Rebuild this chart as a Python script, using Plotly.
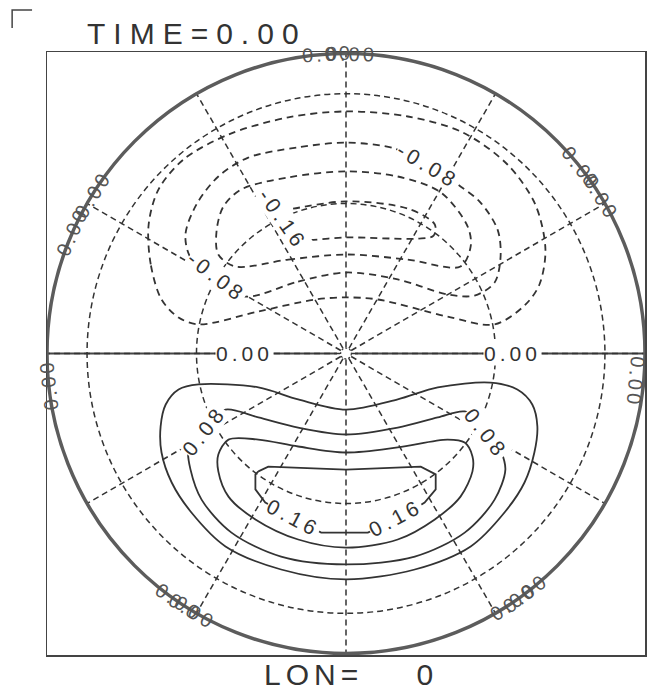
import math
import plotly.graph_objects as go

# ---------------- data (orthographic map units, map radius = 1) ----------------
TITLE = "TIME=0.00"
XLABEL = "LON=\u00a0\u00a0\u00a0\u00a00"

GRID_LATS = [60, 30]                     # latitude circles (orthographic r = cos(lat))
GRID_LONS = list(range(0, 360, 30))      # meridians

# contour level -0.04
C_M004_X = [-0.617, -0.653, -0.66, -0.627, -0.543, -0.393, -0.193, 0.0, 0.207, 0.39, 0.54, 0.633,
            0.667, 0.647, 0.60, 0.497, 0.34, 0.107, 0.0, -0.103, -0.293, -0.493, -0.56, -0.617]
C_M004_Y = [0.18, 0.297, 0.43, 0.547, 0.647, 0.73, 0.787, 0.807, 0.79, 0.737, 0.63, 0.497,
            0.347, 0.23, 0.163, 0.097, 0.123, 0.18, 0.187, 0.18, 0.14, 0.097, 0.12, 0.18]
# contour level -0.08
C_M008_X = [-0.337, -0.16, 0.0, 0.173, 0.34, 0.43, 0.497, 0.517, 0.507, 0.45, 0.383, 0.273,
            0.163, 0.0, -0.16, -0.327, -0.427, -0.5, -0.537, -0.52, -0.433, -0.337]
C_M008_Y = [0.19, 0.24, 0.27, 0.247, 0.197, 0.193, 0.237, 0.323, 0.413, 0.503, 0.557, 0.627,
            0.683, 0.703, 0.687, 0.653, 0.59, 0.497, 0.397, 0.32, 0.247, 0.19]
# contour level -0.12
C_M012_X = [-0.37, -0.193, 0.0, 0.207, 0.383, 0.417, 0.407, 0.317, 0.173, 0.0, -0.193, -0.35,
            -0.41, -0.433, -0.427, -0.37]
C_M012_Y = [0.29, 0.313, 0.33, 0.313, 0.29, 0.357, 0.423, 0.537, 0.59, 0.607, 0.587, 0.547,
            0.49, 0.407, 0.33, 0.29]
# contour level -0.16
C_M016_X = [-0.243, -0.177, 0.0, 0.207, 0.297, 0.293, 0.24, 0.0, -0.16, -0.217, -0.253, -0.243]
C_M016_Y = [0.473, 0.483, 0.507, 0.483, 0.43, 0.393, 0.383, 0.387, 0.38, 0.407, 0.447, 0.473]
# contour level 0.04
C_P004_X = [-0.493, -0.293, -0.16, 0.0, 0.173, 0.307, 0.483, 0.573, 0.623, 0.64, 0.63, 0.597,
            0.53, 0.417, 0.23, 0.0, -0.217, -0.403, -0.517, -0.583, -0.617, -0.62, -0.603,
            -0.56, -0.493]
C_P004_Y = [-0.103, -0.113, -0.153, -0.187, -0.153, -0.113, -0.097, -0.12, -0.17, -0.243, -0.33,
            -0.43, -0.53, -0.643, -0.72, -0.753, -0.72, -0.643, -0.53, -0.43, -0.33, -0.243,
            -0.17, -0.12, -0.103]
# contour level 0.08
C_P008_X = [-0.403, -0.293, -0.16, 0.0, 0.173, 0.307, 0.397, 0.473, 0.517, 0.533, 0.497, 0.397,
            0.23, 0.0, -0.217, -0.383, -0.483, -0.52, -0.527, -0.477, -0.403]
C_P008_Y = [-0.187, -0.213, -0.247, -0.27, -0.247, -0.213, -0.193, -0.237, -0.32, -0.387, -0.487,
            -0.597, -0.677, -0.703, -0.677, -0.597, -0.487, -0.387, -0.32, -0.237, -0.187]
# contour level 0.12
C_P012_X = [-0.393, -0.293, -0.16, 0.0, 0.173, 0.34, 0.397, 0.423, 0.423, 0.383, 0.297, 0.173,
            0.0, -0.16, -0.303, -0.393, -0.427, -0.427, -0.393]
C_P012_Y = [-0.287, -0.287, -0.31, -0.33, -0.313, -0.287, -0.297, -0.343, -0.393, -0.477, -0.553,
            -0.62, -0.647, -0.62, -0.553, -0.477, -0.393, -0.337, -0.287]
# contour level 0.16
C_P016_X = [-0.293, -0.26, 0.0, 0.25, 0.30, 0.30, 0.263, 0.173, 0.073, -0.083, -0.177, -0.27,
            -0.303, -0.303, -0.293]
C_P016_Y = [-0.393, -0.377, -0.387, -0.377, -0.403, -0.453, -0.497, -0.553, -0.597, -0.597,
            -0.547, -0.497, -0.453, -0.403, -0.393]
# contour level 0.00 along the equatorial diameter
C_ZERO_X = [-1.0, -0.03, None, 0.03, 1.0]
C_ZERO_Y = [0.0, 0.0, None, 0.0, 0.0]

# inline contour labels
LABEL_TEXT = ["-0.08", "-0.08", "-0.16", "0.08", "0.08", "0.16", "0.16", "0.00", "0.00"]
LABEL_X = [0.275, -0.433, -0.21, -0.475, 0.47, -0.177, 0.167, -0.34, 0.557]
LABEL_Y = [0.627, 0.257, 0.447, -0.255, -0.265, -0.547, -0.547, 0.0, 0.0]
LABEL_ROT = [31, 38, 55, -52, 52, 28, -28, 0, 0]

# labels of the 0.00 contour on the rim (angle in degrees, counter-clockwise from east)
RIM_LABEL_PHI = [93.5, 89.0, 38.0, 31.5, 148.0, 156.0, 186.0, 354.5, 236.0, 239.0, 304.0, 307.0]
RIM_LABEL_R = [1.0, 1.0, 1.0, 1.0, 1.0, 1.0, 1.0, 0.975, 1.0, 1.0, 1.0, 1.0]

# ---------------- figure ----------------
INK = "#333333"
FONT = "Liberation Sans"


def spaced(text, px):
    return '<span style="letter-spacing:%dpx">%s</span>' % (px, text)


fig = go.Figure()

levels = [
    (-0.04, C_M004_X, C_M004_Y), (-0.08, C_M008_X, C_M008_Y),
    (-0.12, C_M012_X, C_M012_Y), (-0.16, C_M016_X, C_M016_Y),
    (0.04, C_P004_X, C_P004_Y), (0.08, C_P008_X, C_P008_Y),
    (0.12, C_P012_X, C_P012_Y), (0.16, C_P016_X, C_P016_Y),
]
for lev, xs, ys in levels:
    fig.add_trace(go.Scatter(
        x=xs, y=ys, mode="lines", hoverinfo="skip", showlegend=False,
        line=dict(color=INK, width=1.8,
                  dash="7px,5px" if lev < 0 else "solid",
                  shape="linear" if lev >= 0.16 else "spline",
                  smoothing=0.9)))

fig.add_trace(go.Scatter(x=C_ZERO_X, y=C_ZERO_Y, mode="lines", hoverinfo="skip",
                         showlegend=False, line=dict(color="#444444", width=2)))

shapes = []
# latitude circles
for lat in GRID_LATS:
    r = math.cos(math.radians(lat))
    shapes.append(dict(type="circle", xref="x", yref="y", x0=-r, y0=-r, x1=r, y1=r,
                       line=dict(color=INK, width=1.5, dash="6px,4px"), layer="above"))
# meridians
for lon in GRID_LONS:
    a = math.radians(lon)
    shapes.append(dict(type="line", xref="x", yref="y",
                       x0=0.02 * math.cos(a), y0=0.02 * math.sin(a),
                       x1=math.cos(a), y1=math.sin(a),
                       line=dict(color=INK, width=1.5, dash="6px,4px"), layer="above"))
# pole marker
shapes.append(dict(type="circle", xref="x", yref="y", x0=-0.018, y0=-0.018, x1=0.018, y1=0.018,
                   line=dict(color=INK, width=1.2, dash="2px,2px"), layer="above"))
# rim (equator)
shapes.append(dict(type="circle", xref="x", yref="y", x0=-1, y0=-1, x1=1, y1=1,
                   line=dict(color="#5c5c5c", width=3.5), layer="above"))
# corner mark
shapes.append(dict(type="path", xref="paper", yref="paper",
                   path="M -0.0583 1.0398 L -0.0583 1.0697 L -0.025 1.0697",
                   line=dict(color="#444444", width=1.5)))

annotations = []
for t, x, y, rot in zip(LABEL_TEXT, LABEL_X, LABEL_Y, LABEL_ROT):
    annotations.append(dict(x=x, y=y, xref="x", yref="y", text=spaced(t, 4), showarrow=False,
                            textangle=rot, bgcolor="white", borderpad=0,
                            font=dict(family=FONT, size=21, color=INK)))
for phi, rr in zip(RIM_LABEL_PHI, RIM_LABEL_R):
    a = math.radians(phi)
    rot = 90 - phi
    while rot <= -180:
        rot += 360
    while rot > 180:
        rot -= 360
    if rot < -100:
        rot += 180
    elif rot > 100:
        rot -= 180
    annotations.append(dict(x=rr * math.cos(a), y=rr * math.sin(a), xref="x", yref="y",
                            text=spaced("0.00", 3), showarrow=False, textangle=rot,
                            font=dict(family=FONT, size=20, color="#555555")))

annotations.append(dict(x=0.0633, y=1.0, xref="paper", yref="paper", xanchor="left",
                        yanchor="bottom", showarrow=False, text=spaced(TITLE, 8),
                        font=dict(family=FONT, size=30, color=INK)))
annotations.append(dict(x=(263 - 47) / 600, y=-0.002, xref="paper", yref="paper",
                        xanchor="left", yanchor="top", showarrow=False, text=spaced(XLABEL, 5),
                        font=dict(family=FONT, size=30, color=INK)))

axis_common = dict(showgrid=False, zeroline=False, showticklabels=False, ticks="",
                   showline=True, mirror=True, linecolor="#444444", linewidth=1.5,
                   fixedrange=True)
fig.update_layout(
    width=650, height=690,
    margin=dict(l=47, r=3, t=52, b=35),
    paper_bgcolor="white", plot_bgcolor="white",
    xaxis=dict(range=[-1, 1], **axis_common),
    yaxis=dict(range=[-1.005, 1.005], **axis_common),
    shapes=shapes, annotations=annotations, showlegend=False,
)

# remove the default page margin so the 650x690 figure fills the window exactly
fig.write_html("out.html",
               config={"displayModeBar": False, "staticPlot": True},
               post_script="document.body.style.margin='0';"
                           "document.body.style.overflow='hidden';")
